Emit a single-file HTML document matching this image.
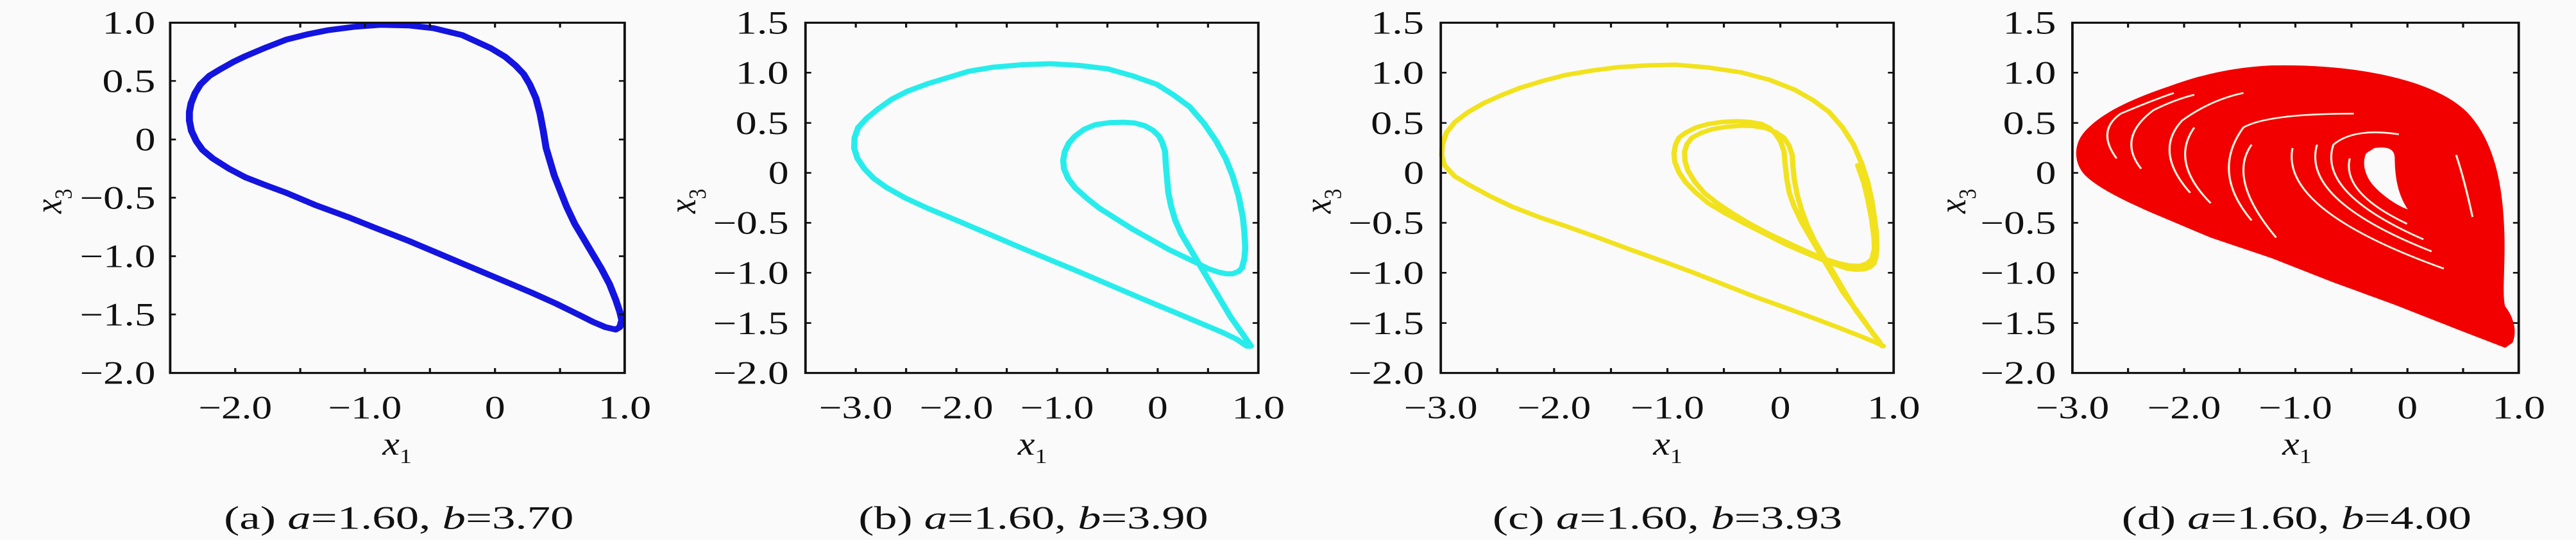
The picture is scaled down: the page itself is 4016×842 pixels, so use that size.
<!DOCTYPE html>
<html><head><meta charset="utf-8"><style>
html,body{margin:0;padding:0;background:#fafafa}
svg{display:block}
text{font-family:"Liberation Serif",serif;fill:#111}
.t{font-size:94px}
.i{font-style:italic}
</style></head><body>
<svg width="4016" height="842" viewBox="0 0 6297 1568" preserveAspectRatio="none" xmlns="http://www.w3.org/2000/svg">
<rect width="6297" height="1568" fill="#fafafa"/>

<!-- Panel A -->
<g>
<polyline fill="none" stroke="#1414e0" stroke-width="17" stroke-linejoin="round" stroke-linecap="round" points="930,72 1000,74 1060,82 1130,102 1200,140 1235,165 1260,190 1280,215 1295,245 1310,285 1320,330 1328,380 1335,430 1345,470 1355,510 1370,555 1385,600 1405,650 1430,700 1450,740 1470,780 1490,825 1505,870 1515,905 1520,930 1515,950 1505,957 1480,950 1450,935 1420,917 1360,882 1300,850 1220,810 1150,775 1080,740 1000,700 920,663 850,630 770,595 700,560 650,538 600,515 560,490 520,460 495,435 480,410 468,380 463,350 463,325 467,300 477,270 490,245 512,220 540,200 570,180 600,163 650,138 700,115 750,100 800,88 865,78 930,72"/>
<rect x="416" y="66" width="1111" height="1017" fill="none" stroke="#111" stroke-width="6"/>
<g stroke="#111" stroke-width="5">
<path d="M575,1083v-14M734,1083v-14M892,1083v-14M1051,1083v-14M1210,1083v-14M1369,1083v-14M575,66v14M734,66v14M892,66v14M1051,66v14M1210,66v14M1369,66v14"/>
<path d="M416,235h14M416,405h14M416,574h14M416,744h14M416,913h14M1527,235h-14M1527,405h-14M1527,574h-14M1527,744h-14M1527,913h-14"/>
</g>
<g class="t" text-anchor="end">
<text x="380" y="98" textLength="130" lengthAdjust="spacingAndGlyphs">1.0</text>
<text x="380" y="267" textLength="130" lengthAdjust="spacingAndGlyphs">0.5</text>
<text x="380" y="437" textLength="50" lengthAdjust="spacingAndGlyphs">0</text>
<text x="380" y="606" textLength="185" lengthAdjust="spacingAndGlyphs">−0.5</text>
<text x="380" y="776" textLength="185" lengthAdjust="spacingAndGlyphs">−1.0</text>
<text x="380" y="945" textLength="185" lengthAdjust="spacingAndGlyphs">−1.5</text>
<text x="380" y="1115" textLength="185" lengthAdjust="spacingAndGlyphs">−2.0</text>
</g>
<g class="t" text-anchor="middle">
<text x="575" y="1215" textLength="180" lengthAdjust="spacingAndGlyphs">−2.0</text>
<text x="892" y="1215" textLength="180" lengthAdjust="spacingAndGlyphs">−1.0</text>
<text x="1210" y="1215" textLength="50" lengthAdjust="spacingAndGlyphs">0</text>
<text x="1527" y="1215" textLength="130" lengthAdjust="spacingAndGlyphs">1.0</text>
</g>
<text class="t i" x="935" y="1320">x<tspan font-size="60" font-style="normal" dy="25">1</tspan></text>
<text class="t i" transform="translate(150,620) rotate(-90)">x<tspan font-size="60" font-style="normal" dy="25">3</tspan></text>
<text class="t" x="975" y="1535" text-anchor="middle" textLength="855" lengthAdjust="spacingAndGlyphs">(a) <tspan class="i">a</tspan>=1.60, <tspan class="i">b</tspan>=3.70</text>
</g>

<!-- Panel B -->
<g transform="translate(1568,0)">
<polyline fill="none" stroke="#28ecec" stroke-width="15" stroke-linejoin="round" stroke-linecap="round" points="1490,1005 1465,962 1440,920 1420,880 1400,840 1380,800 1360,760 1340,720 1320,680 1305,640 1295,600 1288,560 1285,520 1282,480 1280,440 1273,413 1265,395 1250,378 1230,365 1205,357 1180,355 1145,356 1110,362 1083,375 1060,395 1045,415 1035,440 1031,465 1033,490 1043,518 1060,545 1088,575 1120,605 1160,635 1200,665 1245,695 1290,725 1325,745 1360,765 1385,780 1410,790 1430,795 1445,795 1460,788 1468,778 1474,750 1476,720 1474,675 1470,630 1460,570 1445,510 1428,460 1405,410 1375,358 1340,310 1300,275 1260,245 1200,220 1140,200 1070,190 1000,185 930,188 860,195 800,207 750,225 700,243 650,265 612,288 580,315 552,342 530,370 521,400 520,430 528,460 545,490 568,518 600,545 645,575 700,605 775,642 850,680 925,718 1000,755 1075,792 1150,830 1225,868 1300,905 1360,935 1420,965 1455,985 1480,1005 1490,1005"/>
<rect x="401" y="66" width="1107" height="1017" fill="none" stroke="#111" stroke-width="6"/>
<g stroke="#111" stroke-width="5">
<path d="M524,1083v-14M647,1083v-14M770,1083v-14M893,1083v-14M1016,1083v-14M1139,1083v-14M1262,1083v-14M1385,1083v-14M524,66v14M647,66v14M770,66v14M893,66v14M1016,66v14M1139,66v14M1262,66v14M1385,66v14"/>
<path d="M401,211h14M401,357h14M401,502h14M401,647h14M401,792h14M401,938h14M1508,211h-14M1508,357h-14M1508,502h-14M1508,647h-14M1508,792h-14M1508,938h-14"/>
</g>
<g class="t" text-anchor="end">
<text x="360" y="98" textLength="130" lengthAdjust="spacingAndGlyphs">1.5</text>
<text x="360" y="243" textLength="130" lengthAdjust="spacingAndGlyphs">1.0</text>
<text x="360" y="389" textLength="130" lengthAdjust="spacingAndGlyphs">0.5</text>
<text x="360" y="534" textLength="50" lengthAdjust="spacingAndGlyphs">0</text>
<text x="360" y="679" textLength="185" lengthAdjust="spacingAndGlyphs">−0.5</text>
<text x="360" y="824" textLength="185" lengthAdjust="spacingAndGlyphs">−1.0</text>
<text x="360" y="970" textLength="185" lengthAdjust="spacingAndGlyphs">−1.5</text>
<text x="360" y="1115" textLength="185" lengthAdjust="spacingAndGlyphs">−2.0</text>
</g>
<g class="t" text-anchor="middle">
<text x="524" y="1215" textLength="180" lengthAdjust="spacingAndGlyphs">−3.0</text>
<text x="770" y="1215" textLength="180" lengthAdjust="spacingAndGlyphs">−2.0</text>
<text x="1016" y="1215" textLength="180" lengthAdjust="spacingAndGlyphs">−1.0</text>
<text x="1262" y="1215" textLength="50" lengthAdjust="spacingAndGlyphs">0</text>
<text x="1508" y="1215" textLength="130" lengthAdjust="spacingAndGlyphs">1.0</text>
</g>
<text class="t i" x="920" y="1320">x<tspan font-size="60" font-style="normal" dy="25">1</tspan></text>
<text class="t i" transform="translate(132,620) rotate(-90)">x<tspan font-size="60" font-style="normal" dy="25">3</tspan></text>
<text class="t" x="958" y="1535" text-anchor="middle" textLength="855" lengthAdjust="spacingAndGlyphs">(b) <tspan class="i">a</tspan>=1.60, <tspan class="i">b</tspan>=3.90</text>
</g>

<!-- Panel C -->
<g transform="translate(3136,0)">
<g fill="none" stroke="#f2e21e" stroke-width="13" stroke-linejoin="round" stroke-linecap="round">
<polyline points="1465,1005 1442,968 1420,930 1395,890 1370,850 1350,810 1330,770 1310,730 1290,690 1268,645 1250,600 1238,560 1232,520 1228,480 1225,440 1217,412 1205,390 1190,372 1170,360 1140,354 1110,352 1075,354 1040,360 1010,370 985,385 968,400 960,420 956,445 958,470 968,500 985,530 1010,560 1040,590 1082,620 1130,650 1180,680 1230,710 1275,733 1320,755 1350,768 1380,780 1400,783 1420,782 1435,776 1445,765 1450,745 1452,720 1451,680 1447,640 1440,585 1430,530 1415,475 1395,420 1368,370 1335,325 1295,290 1250,260 1190,232 1120,210 1040,196 960,188 890,190 820,195 755,205 690,218 635,235 580,255 535,276 490,300 452,326 420,355 400,385 390,420 388,450 395,480 420,512 460,540 507,570 560,600 630,632 700,660 775,692 850,725 925,757 1000,790 1075,825 1150,860 1225,892 1300,925 1360,952 1420,980 1450,995 1468,1005"/>
<polyline points="1460,995 1430,948 1400,900 1372,845 1345,790 1322,745 1300,700 1282,655 1268,610 1257,565 1250,520 1247,485 1245,450 1237,422 1225,400 1205,384 1180,372 1150,366 1120,365 1085,368 1050,375 1022,386 1000,400 988,418 982,440 983,468 990,495 1007,528 1030,560 1062,590 1100,620 1142,650 1190,680 1240,708 1290,735 1325,752 1360,765 1385,771 1410,772 1428,765 1440,752 1446,722 1445,690 1439,635 1430,580 1420,530 1405,480"/>
</g>
<rect x="386" y="66" width="1107" height="1017" fill="none" stroke="#111" stroke-width="6"/>
<g stroke="#111" stroke-width="5">
<path d="M524,1083v-14M663,1083v-14M802,1083v-14M940,1083v-14M1078,1083v-14M1216,1083v-14M1355,1083v-14M524,66v14M663,66v14M802,66v14M940,66v14M1078,66v14M1216,66v14M1355,66v14"/>
<path d="M386,211h14M386,357h14M386,502h14M386,647h14M386,792h14M386,938h14M1493,211h-14M1493,357h-14M1493,502h-14M1493,647h-14M1493,792h-14M1493,938h-14"/>
</g>
<g class="t" text-anchor="end">
<text x="345" y="98" textLength="130" lengthAdjust="spacingAndGlyphs">1.5</text>
<text x="345" y="243" textLength="130" lengthAdjust="spacingAndGlyphs">1.0</text>
<text x="345" y="389" textLength="130" lengthAdjust="spacingAndGlyphs">0.5</text>
<text x="345" y="534" textLength="50" lengthAdjust="spacingAndGlyphs">0</text>
<text x="345" y="679" textLength="185" lengthAdjust="spacingAndGlyphs">−0.5</text>
<text x="345" y="824" textLength="185" lengthAdjust="spacingAndGlyphs">−1.0</text>
<text x="345" y="970" textLength="185" lengthAdjust="spacingAndGlyphs">−1.5</text>
<text x="345" y="1115" textLength="185" lengthAdjust="spacingAndGlyphs">−2.0</text>
</g>
<g class="t" text-anchor="middle">
<text x="386" y="1215" textLength="180" lengthAdjust="spacingAndGlyphs">−3.0</text>
<text x="663" y="1215" textLength="180" lengthAdjust="spacingAndGlyphs">−2.0</text>
<text x="940" y="1215" textLength="180" lengthAdjust="spacingAndGlyphs">−1.0</text>
<text x="1216" y="1215" textLength="50" lengthAdjust="spacingAndGlyphs">0</text>
<text x="1493" y="1215" textLength="130" lengthAdjust="spacingAndGlyphs">1.0</text>
</g>
<text class="t i" x="905" y="1320">x<tspan font-size="60" font-style="normal" dy="25">1</tspan></text>
<text class="t i" transform="translate(117,620) rotate(-90)">x<tspan font-size="60" font-style="normal" dy="25">3</tspan></text>
<text class="t" x="940" y="1535" text-anchor="middle" textLength="855" lengthAdjust="spacingAndGlyphs">(c) <tspan class="i">a</tspan>=1.60, <tspan class="i">b</tspan>=3.93</text>
</g>

<!-- Panel D -->
<g transform="translate(4704,0)">
<path fill="#f20000" d="M850,190 C1050,185 1250,230 1330,330 C1400,420 1415,560 1418,680 C1420,780 1412,860 1420,890 C1440,920 1450,960 1438,995 L1420,1010 L1300,955 1150,885 1000,820 850,750 700,690 580,630 C500,590 420,545 390,505 C365,470 365,420 390,385 C430,330 500,290 600,250 C680,215 760,195 850,190 Z"/>
<path fill="#fafafa" d="M1100,430 C1130,425 1150,430 1150,460 C1150,520 1160,570 1182,608 C1160,600 1120,570 1095,535 C1075,505 1070,470 1080,445 Z"/>
<g fill="none" stroke="#fff4e0" stroke-width="5">
<path d="M1220,695 Q960,560 1000,420 Q1050,370 1160,390"/>
<path d="M1240,730 Q920,580 960,420"/>
<path d="M1270,780 Q870,610 900,430"/>
<path d="M1180,650 Q1020,560 1040,460"/>
<path d="M800,640 Q700,500 780,370 Q840,330 1050,330"/>
<path d="M860,690 Q740,520 800,420"/>
<path d="M650,560 Q560,440 630,350 Q700,290 780,270"/>
<path d="M700,590 Q600,470 660,370"/>
<path d="M530,490 Q470,400 560,320 Q610,290 660,275"/>
<path d="M470,460 Q420,380 480,330 Q560,290 610,270"/>
<path d="M1340,630 Q1320,520 1300,450"/>
</g>
<rect x="362" y="66" width="1091" height="1017" fill="none" stroke="#111" stroke-width="6"/>
<g stroke="#111" stroke-width="5">
<path d="M498,1083v-14M635,1083v-14M771,1083v-14M907,1083v-14M1044,1083v-14M1181,1083v-14M1317,1083v-14M498,66v14M635,66v14M771,66v14M907,66v14M1044,66v14M1181,66v14M1317,66v14"/>
<path d="M362,211h14M362,357h14M362,502h14M362,647h14M362,792h14M362,938h14M1453,211h-14M1453,357h-14M1453,502h-14M1453,647h-14M1453,792h-14M1453,938h-14"/>
</g>
<g class="t" text-anchor="end">
<text x="322" y="98" textLength="130" lengthAdjust="spacingAndGlyphs">1.5</text>
<text x="322" y="243" textLength="130" lengthAdjust="spacingAndGlyphs">1.0</text>
<text x="322" y="389" textLength="130" lengthAdjust="spacingAndGlyphs">0.5</text>
<text x="322" y="534" textLength="50" lengthAdjust="spacingAndGlyphs">0</text>
<text x="322" y="679" textLength="185" lengthAdjust="spacingAndGlyphs">−0.5</text>
<text x="322" y="824" textLength="185" lengthAdjust="spacingAndGlyphs">−1.0</text>
<text x="322" y="970" textLength="185" lengthAdjust="spacingAndGlyphs">−1.5</text>
<text x="322" y="1115" textLength="185" lengthAdjust="spacingAndGlyphs">−2.0</text>
</g>
<g class="t" text-anchor="middle">
<text x="362" y="1215" textLength="180" lengthAdjust="spacingAndGlyphs">−3.0</text>
<text x="635" y="1215" textLength="180" lengthAdjust="spacingAndGlyphs">−2.0</text>
<text x="907" y="1215" textLength="180" lengthAdjust="spacingAndGlyphs">−1.0</text>
<text x="1181" y="1215" textLength="50" lengthAdjust="spacingAndGlyphs">0</text>
<text x="1453" y="1215" textLength="130" lengthAdjust="spacingAndGlyphs">1.0</text>
</g>
<text class="t i" x="875" y="1320">x<tspan font-size="60" font-style="normal" dy="25">1</tspan></text>
<text class="t i" transform="translate(100,620) rotate(-90)">x<tspan font-size="60" font-style="normal" dy="25">3</tspan></text>
<text class="t" x="910" y="1535" text-anchor="middle" textLength="855" lengthAdjust="spacingAndGlyphs">(d) <tspan class="i">a</tspan>=1.60, <tspan class="i">b</tspan>=4.00</text>
</g>
</svg>
</body></html>
